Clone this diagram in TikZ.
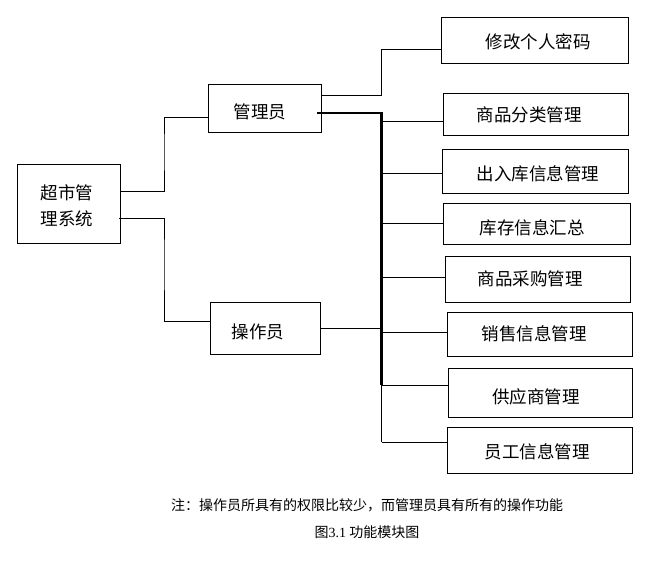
\documentclass[tikz,border=0pt]{standalone}
\usepackage{fontspec}
\setmainfont{Liberation Serif}
\newfontfamily\cjk{Noto Sans CJK SC}
\begin{document}
\begin{tikzpicture}[x=1pt,y=-1pt,
  box/.style={draw, line width=0.9pt, inner sep=0pt, outer sep=0pt},
  lbl/.style={inner sep=0pt, font=\cjk\fontsize{17.5}{26}\selectfont},
  ln/.style={line width=0.9pt},
  thk/.style={line width=2.4pt}]
\useasboundingbox (0,0) rectangle (660,565);
\fill[white] (0,0) rectangle (660,565);
% boxes
\node[box, minimum width=103pt, minimum height=79pt] (sys) at (68.5,203.5) {};
\node[box, minimum width=113pt, minimum height=48pt] (gly) at (264.5,108) {};
\node[box, minimum width=110pt, minimum height=52pt] (czy) at (265,328) {};
\node[box, minimum width=187pt, minimum height=46pt] (m1) at (534.5,40) {};
\node[box, minimum width=185pt, minimum height=42pt] (m2) at (535.5,114) {};
\node[box, minimum width=186pt, minimum height=44pt] (m3) at (535,171) {};
\node[box, minimum width=187pt, minimum height=41pt] (m4) at (536.5,223.5) {};
\node[box, minimum width=185pt, minimum height=46pt] (m5) at (537.5,279) {};
\node[box, minimum width=185pt, minimum height=44pt] (m6) at (539.5,334) {};
\node[box, minimum width=184pt, minimum height=49pt] (m7) at (540,392.5) {};
\node[box, minimum width=185pt, minimum height=46pt] (m8) at (539.5,450) {};
% labels
\node[lbl, align=left] (syst) at (67,206) {超市管\\理系统};
\node[lbl] (glyt) at (260,112) {管理员};
\node[lbl] (czyt) at (258,332) {操作员};
\node[lbl] (m1t) at (538,42) {修改个人密码};
\node[lbl] (m2t) at (529,115) {商品分类管理};
\node[lbl] (m3t) at (538,174) {出入库信息管理};
\node[lbl] (m4t) at (532,228) {库存信息汇总};
\node[lbl] (m5t) at (530,279) {商品采购管理};
\node[lbl] (m6t) at (534,334) {销售信息管理};
\node[lbl] (m7t) at (536,397) {供应商管理};
\node[lbl] (m8t) at (537,452) {员工信息管理};
% junction coordinates
\coordinate (jx1) at (164,150);
\coordinate (jx2) at (164,260);
\coordinate (k1) at (381.5,70);
\coordinate (bt) at (381.5,113);
\coordinate (bb) at (381.5,385);
\coordinate (be) at (381.5,442);
% branch end points on box edges
\coordinate (e2) at ([yshift=-7pt]m2.west);
\coordinate (e3) at ([yshift=-2pt]m3.west);
\coordinate (e4) at (m4.west);
\coordinate (e5) at ([yshift=2pt]m5.west);
\coordinate (e6) at ([yshift=2pt]m6.west);
\coordinate (e7) at ([yshift=7.5pt]m7.west);
\coordinate (e8) at ([yshift=8pt]m8.west);
% connectors from root
\draw[ln] ([yshift=12.5pt]sys.east) -| (jx1) |- ([yshift=-9pt]gly.west);
\draw[ln] ([xshift=-1pt,yshift=-14.5pt]sys.east) -| (jx2) |- ([yshift=7pt]czy.west);
% manager
\draw[ln] ([yshift=13pt]gly.east) -| (k1) |- ([yshift=-9pt]m1.west);
\draw[thk] ([xshift=-4pt,yshift=-5pt]gly.east) -- (bt) -- (bb);
\draw[ln] (bt) -- (be);
% operator
\draw[ln] (czy.east) -- (bt |- czy.east);
% branches
\foreach \e in {e2,e3,e4,e5,e6,e7,e8} \draw[ln] (bt |- \e) -- (\e);
% captions
\node[font=\cjk\fontsize{14}{16}\selectfont] (note) at (367,505) {注：操作员所具有的权限比较少，而管理员具有所有的操作功能};
\node[font=\cjk\fontsize{14}{16}\selectfont] (cap) at (367,532) {图{\rmfamily 3.1} 功能模块图};
\end{tikzpicture}
\end{document}
